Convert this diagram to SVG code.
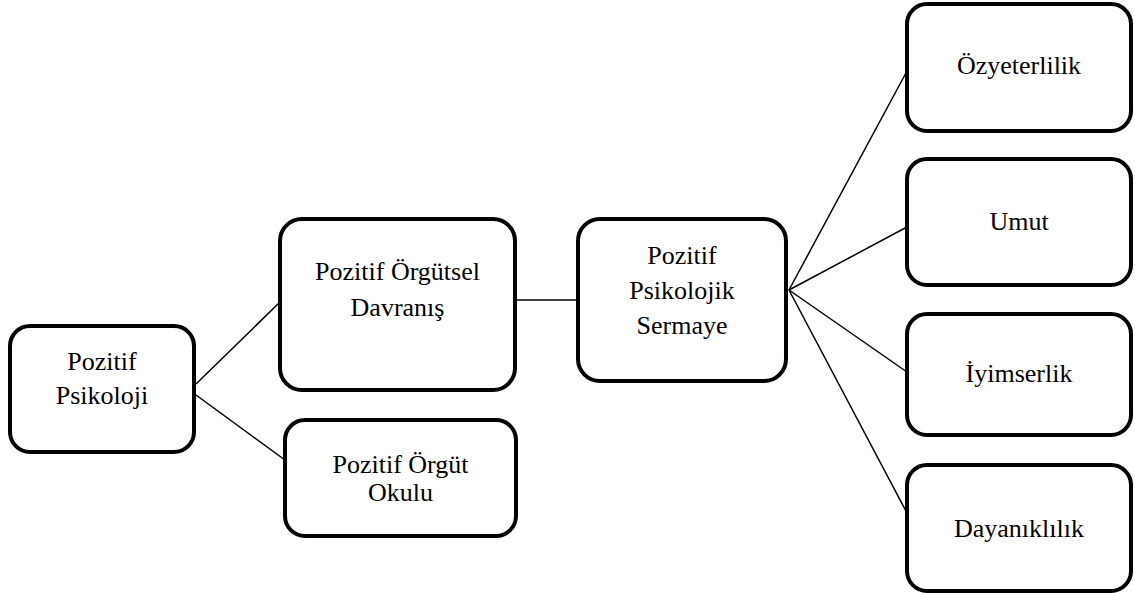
<svg xmlns="http://www.w3.org/2000/svg" width="1135" height="593" viewBox="0 0 1135 593">
<style>
.box{fill:#fff;stroke:#000;stroke-width:4}
.c line{stroke:#000;stroke-width:1.5}
</style>
<rect width="1135" height="593" fill="#fff"/>
<g class="c" id="connectors">
<line x1="196" y1="384" x2="280" y2="302"/>
<line x1="196" y1="395" x2="285" y2="460"/>
<line x1="517" y1="300" x2="578" y2="300"/>
<line x1="789" y1="290" x2="907" y2="71"/>
<line x1="789" y1="290" x2="907" y2="227"/>
<line x1="789" y1="290" x2="907" y2="372"/>
<line x1="789" y1="290" x2="907" y2="513"/>
</g>
<g font-family="Liberation Serif, 'Times New Roman', serif" font-size="26" text-anchor="middle" fill="#000">
<g id="n-psikoloji">
<rect class="box" x="10" y="326" width="184" height="126" rx="20"/>
<text x="102" y="370">Pozitif</text>
<text x="102" y="404">Psikoloji</text>
</g>
<g id="n-povd">
<rect class="box" x="280" y="219" width="235" height="171" rx="22"/>
<text x="397.5" y="280">Pozitif Örgütsel</text>
<text x="397.5" y="316">Davranış</text>
</g>
<g id="n-pok">
<rect class="box" x="285" y="420" width="231" height="116" rx="20"/>
<text x="400.5" y="473">Pozitif Örgüt</text>
<text x="400.5" y="501">Okulu</text>
</g>
<g id="n-pps">
<rect class="box" x="578" y="219" width="208" height="162" rx="22"/>
<text x="682" y="264">Pozitif</text>
<text x="682" y="299">Psikolojik</text>
<text x="682" y="334">Sermaye</text>
</g>
<g id="n-ozy">
<rect class="box" x="907" y="4" width="224" height="127" rx="20"/>
<text x="1019" y="74">Özyeterlilik</text>
</g>
<g id="n-umut">
<rect class="box" x="907" y="159" width="224" height="126" rx="20"/>
<text x="1019" y="230">Umut</text>
</g>
<g id="n-iyim">
<rect class="box" x="907" y="314" width="224" height="121" rx="20"/>
<text x="1019" y="382">İyimserlik</text>
</g>
<g id="n-day">
<rect class="box" x="907" y="465" width="224" height="126" rx="20"/>
<text x="1019" y="537">Dayanıklılık</text>
</g>
</g>
</svg>
